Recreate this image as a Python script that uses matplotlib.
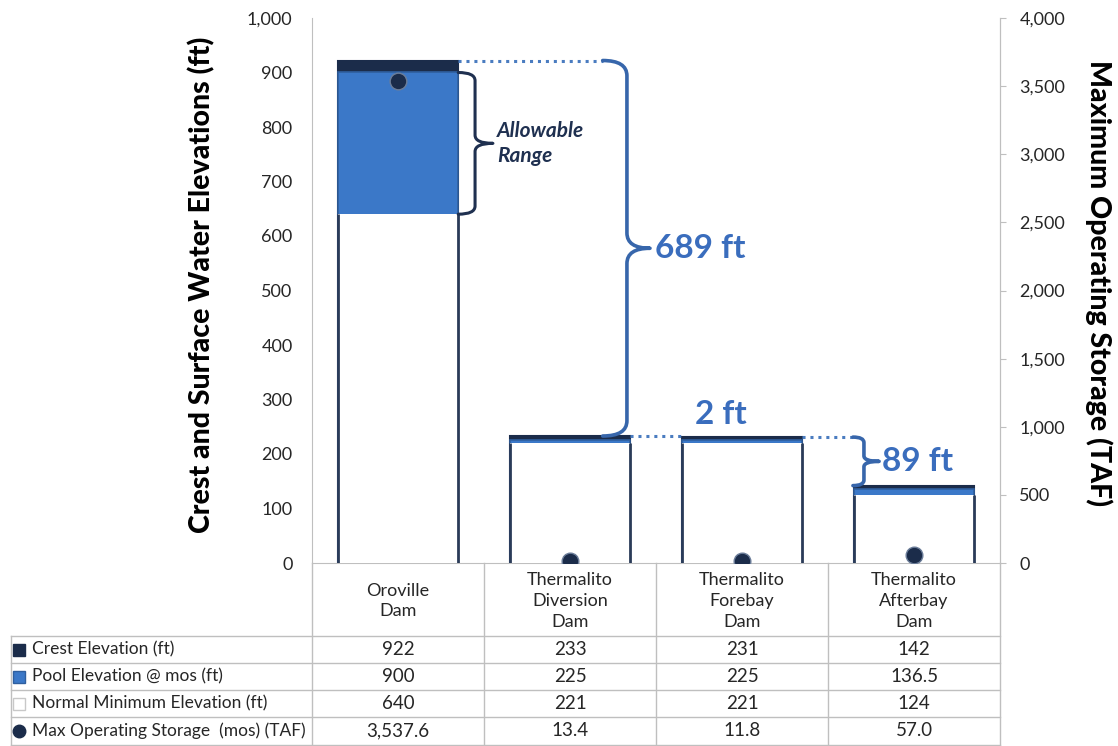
import matplotlib.pyplot as plt
from matplotlib.path import Path
from matplotlib.patches import PathPatch
from matplotlib.transforms import blended_transform_factory
from matplotlib.ticker import FuncFormatter

plt.rcParams['font.family'] = ['Lato', 'DejaVu Sans']

# dam data (elevations in ft, storage in TAF)
dams = ['Oroville\nDam', 'Thermalito\nDiversion\nDam', 'Thermalito\nForebay\nDam', 'Thermalito\nAfterbay\nDam']
crest = [922, 233, 231, 142]
pool = [900, 225, 225, 136.5]
normal_min = [640, 221, 221, 124]
storage = [3537.6, 13.4, 11.8, 57.0]

row_labels = ['Crest Elevation (ft)', 'Pool Elevation @ mos (ft)',
              'Normal Minimum Elevation (ft)', 'Max Operating Storage  (mos) (TAF)']

NAVY = '#1b2c4a'
BLUE = '#3b78c8'
BRACE_BLUE = '#3766ab'
TEXT_BLUE = '#3a6dbd'
GRID = '#bfbfbf'
TXT = '#262626'

W, H = 1118, 746
fig = plt.figure(figsize=(W / 100, H / 100), dpi=100)
ax = fig.add_axes([312 / W, (H - 563) / H, 688 / W, 545 / H])

x = list(range(len(dams)))
bw = 0.7
ax.bar(x, crest, bw, color=NAVY, edgecolor=NAVY, lw=1.5, zorder=2)
ax.bar(x, pool, bw, color=BLUE, edgecolor='#2f5f9f', lw=1.2, zorder=3)
ax.bar(x, normal_min, bw, color='white', edgecolor='none', zorder=4)
for xi, m in zip(x, normal_min):
    ax.vlines([xi - bw / 2, xi + bw / 2], 0, m, color='#2a3b58', lw=2, zorder=5)


def brace(ax, xl, xv, xt, ytop, ybot, r, color, lw=2.2):
    ym = (ytop + ybot) / 2
    verts = [(xl, ytop), (xv, ytop), (xv, ytop - r),
             (xv, ym + r), (xv, ym), (xt, ym),
             (xv, ym), (xv, ym - r),
             (xv, ybot + r), (xv, ybot), (xl, ybot)]
    codes = [Path.MOVETO, Path.CURVE3, Path.CURVE3, Path.LINETO,
             Path.CURVE3, Path.CURVE3, Path.CURVE3, Path.CURVE3,
             Path.LINETO, Path.CURVE3, Path.CURVE3]
    ax.add_patch(PathPatch(Path(verts, codes), fill=False, edgecolor=color,
                           lw=lw, zorder=6, capstyle='round', joinstyle='round'))


# allowable range on Oroville
brace(ax, 0.35, 0.448, 0.552, pool[0], normal_min[0], 15, '#1f3050')
ax.text(0.576, (pool[0] + normal_min[0]) / 2, 'Allowable\nRange', color='#1f3050',
        fontsize=15, fontweight='bold', style='italic', ha='left', va='center',
        linespacing=1.35)

# drops between dams
dot = dict(color='#4a7cc0', lw=2.2, ls=(0, (1, 1.6)), zorder=6)
ax.plot([0.35, 1.19], [crest[0], crest[0]], **dot)
brace(ax, 1.19, 1.331, 1.465, crest[0], crest[1], 28, BRACE_BLUE, lw=2.6)
ax.text(1.494, (crest[0] + crest[1]) / 2, f'{crest[0] - crest[1]} ft', color=TEXT_BLUE,
        fontsize=24, fontweight='bold', ha='left', va='center')

ax.plot([1.35, 1.65], [crest[1], crest[1]], **dot)
ax.text(1.88, crest[1] + 12, f'{crest[1] - crest[2]} ft', color=TEXT_BLUE,
        fontsize=24, fontweight='bold', ha='center', va='bottom')

ax.plot([2.35, 2.645], [crest[2], crest[2]], **dot)
brace(ax, 2.645, 2.709, 2.797, crest[2], crest[3], 10, BRACE_BLUE, lw=2.6)
ax.text(2.814, (crest[2] + crest[3]) / 2, f'{crest[2] - crest[3]} ft', color=TEXT_BLUE,
        fontsize=24, fontweight='bold', ha='left', va='center')

ax.set_yticks(range(0, 1001, 100))
ax.yaxis.set_major_formatter(FuncFormatter(lambda v, p: f'{v:,.0f}'))
ax.tick_params(axis='y', length=0, pad=14, labelsize=13, labelcolor=TXT)
ax.set_xticks([])
ax.spines['top'].set_visible(False)
for s in ['left', 'right', 'bottom']:
    ax.spines[s].set_color(GRID)

# storage on the secondary axis
ax2 = ax.twinx()
ax2.plot(x, storage, 'o', ms=12, mfc=NAVY, mec='#6b7d99', mew=1, zorder=7)
ax2.set_ylim(0, 4000)
ax2.set_yticks(range(0, 4001, 500))
ax2.yaxis.set_major_formatter(FuncFormatter(lambda v, p: f'{v:,.0f}'))
ax2.tick_params(axis='y', length=4, color=GRID, pad=10, labelsize=13, labelcolor=TXT)
ax2.spines['top'].set_visible(False)
ax2.spines['right'].set_color(GRID)
ax2.spines['left'].set_visible(False)
ax2.spines['bottom'].set_visible(False)

fig.text(202 / W, 1 - 285 / H, 'Crest and Surface Water Elevations (ft)', rotation=90,
         ha='center', va='center', fontsize=20.5, fontweight='black', color='black')
fig.text(1099 / W, 1 - 283 / H, 'Maximum Operating Storage (TAF)', rotation=270,
         ha='center', va='center', fontsize=20.5, fontweight='black', color='black')

# data table under the plot
trans = blended_transform_factory(ax.transData, fig.transFigure)


def fy(px):
    return 1 - px / H


line = dict(color=GRID, lw=1, transform=trans, clip_on=False)
rows_y = [636, 663, 690, 717, 745]
left_edge = -2.25
for b in [-0.5, 0.5, 1.5, 2.5, 3.5]:
    ax.plot([b, b], [fy(563), fy(745)], **line)
ax.plot([left_edge, left_edge], [fy(636), fy(745)], **line)
for yy in rows_y:
    ax.plot([left_edge, 3.5], [fy(yy), fy(yy)], **line)

for xi, name in zip(x, dams):
    ax.text(xi, fy(601), name, transform=trans, ha='center', va='center',
            fontsize=13, color=TXT, linespacing=1.35)

table_rows = [
    [f'{v:g}' for v in crest],
    [f'{v:g}' for v in pool],
    [f'{v:g}' for v in normal_min],
    [f'{v:,.1f}' for v in storage],
]
markers = [
    dict(marker='s', ms=9, mfc=NAVY, mec=NAVY),
    dict(marker='s', ms=8, mfc=BLUE, mec='#2f5f9f'),
    dict(marker='s', ms=8, mfc='white', mec='#c8c8c8'),
    dict(marker='o', ms=9, mfc=NAVY, mec=NAVY),
]
for r, (label, vals, mk) in enumerate(zip(row_labels, table_rows, markers)):
    cy = fy((rows_y[r] + rows_y[r + 1]) / 2)
    ax.plot([-2.205], [cy], transform=trans, clip_on=False, ls='none', **mk)
    ax.text(-2.125, cy, label, transform=trans, ha='left', va='center',
            fontsize=12.5, color=TXT)
    for xi, v in zip(x, vals):
        ax.text(xi, cy, v, transform=trans, ha='center', va='center',
                fontsize=13.5, color=TXT)

ax.set_xlim(-0.5, 3.5)
ax.set_ylim(0, 1000)

fig.savefig('out.png', dpi=100)
